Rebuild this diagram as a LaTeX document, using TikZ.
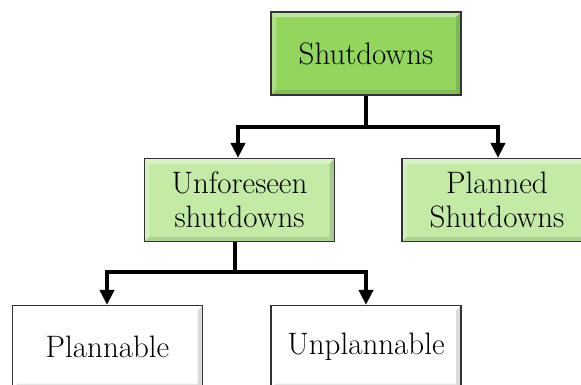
\documentclass[tikz,border=0pt]{standalone}
\usetikzlibrary{arrows.meta}
\definecolor{topgreen}{RGB}{146,214,94}
\definecolor{lightgreen}{RGB}{195,235,166}
\tikzset{
  x=1pt,y=-1pt,
  bevel/.style={
    path picture={
      \fill[white,opacity=.4] (path picture bounding box.north west) -- (path picture bounding box.north east)
        -- ([shift={(-5pt,-5pt)}]path picture bounding box.north east) -- ([shift={(5pt,-5pt)}]path picture bounding box.north west) -- cycle;
      \fill[white,opacity=.25] (path picture bounding box.north west) -- ([shift={(5pt,-5pt)}]path picture bounding box.north west)
        -- ([shift={(5pt,5pt)}]path picture bounding box.south west) -- (path picture bounding box.south west) -- cycle;
      \fill[black,opacity=.1] (path picture bounding box.south west) -- (path picture bounding box.south east)
        -- ([shift={(-5pt,5pt)}]path picture bounding box.south east) -- ([shift={(5pt,5pt)}]path picture bounding box.south west) -- cycle;
      \fill[black,opacity=.14] (path picture bounding box.north east) -- (path picture bounding box.south east)
        -- ([shift={(-5pt,5pt)}]path picture bounding box.south east) -- ([shift={(-5pt,-5pt)}]path picture bounding box.north east) -- cycle;
    }},
  box/.style={draw=black!80, line width=1.2pt, bevel, minimum width=190pt, minimum height=83pt,
    inner sep=0pt, align=center, font=\fontsize{31}{34}\selectfont},
  conn/.style={line width=4pt},
  arr/.style={line width=4pt, -{Triangle[width=14pt,length=15pt]}},
}
\begin{document}
\begin{tikzpicture}
\useasboundingbox (0,0) rectangle (581,384);
\node[box, fill=topgreen] (top) at (366,53.5) {Shutdowns};
\node[box, fill=lightgreen] (unf) at (239.5,200) {Unforeseen\\shutdowns};
\node[box, fill=lightgreen] (pla) at (497,200) {Planned\\Shutdowns};
\node[box, fill=white] (pab) at (107.5,347) {Plannable};
\node[box, fill=white] (unp) at (366,347) {Unplannable};
\coordinate (j1) at (366,127);
\coordinate (j2) at (235,272);
\draw[conn] (top.south) -- (j1);
\draw[arr] (j1) -| ([xshift=-1.5pt]unf.north);
\draw[arr] (j1) -| ([xshift=1pt]pla.north);
\draw[conn] ([xshift=-4.5pt]unf.south) -- (j2);
\draw[arr] (j2) -| ([xshift=-0.5pt]pab.north);
\draw[arr] (j2) -| (unp.north);
\end{tikzpicture}
\end{document}
